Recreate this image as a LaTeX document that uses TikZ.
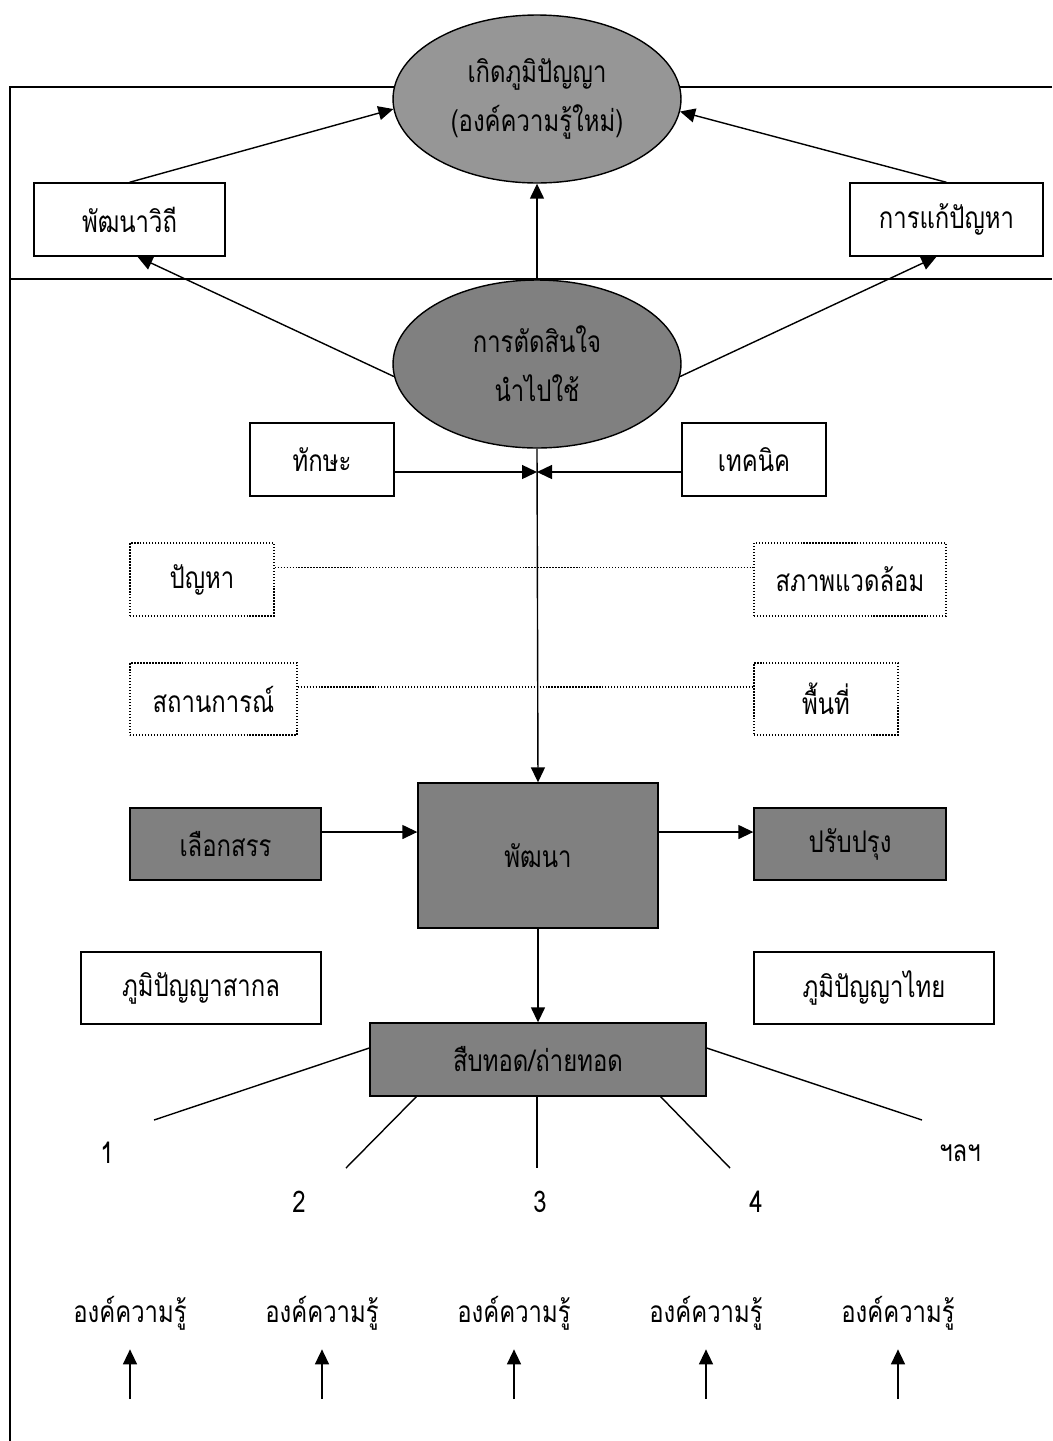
\documentclass[tikz,border=0pt]{standalone}
\usepackage{fontspec}
\newfontfamily\thaifont[Script=Thai,FakeStretch=0.8]{Loma}
\usetikzlibrary{shapes.geometric, positioning, calc, arrows.meta}
\definecolor{ovalgrey}{gray}{0.59}
\definecolor{boxgrey}{gray}{0.5}
\tikzset{
  txt/.style={inner sep=0pt, font=\thaifont\fontsize{17}{20}\selectfont},
  box/.style={txt, draw, line width=0.8pt, minimum height=1.46cm},
  dotbox/.style={txt, draw, densely dotted, line width=0.7pt, minimum height=1.46cm},
  oval/.style={txt, ellipse, draw, line width=0.8pt, align=center, minimum width=5.76cm, minimum height=3.36cm},
  tip/.style={line width=0.8pt, -{Triangle[length=0.3cm, width=0.28cm]}},
}

\begin{document}
\begin{tikzpicture}[x=0.02cm, y=-0.02cm]
  \useasboundingbox (0,0) rectangle (1052,1441);

  % frame
  \draw[line width=0.8pt] (1052,87) -- (10,87) -- (10,1441);
  \draw[line width=0.8pt] (10,279) -- (1052,279);

  % top part
  \node[oval, fill=ovalgrey] (wisdom) at (537,99) {เกิดภูมิปัญญา\\[8pt](องค์ความรู้ใหม่)};
  \node[box, minimum width=3.82cm] (way) at (129.5,219.5) {พัฒนาวิถี};
  \node[box, minimum width=3.86cm] (solve) at (946.5,219.5) {การแก้ปัญหา};
  \node[oval, fill=boxgrey] (decide) at (537,364) {การตัดสินใจ\\[8pt]นำไปใช้};

  \draw[tip] (way.north) -- (wisdom.184);
  \draw[tip] (solve.north) -- (wisdom.355);
  \draw[tip] (decide.north) -- (wisdom.south);
  \draw[tip] (decide.185) -- ($(way.south)+(8,0)$);
  \draw[tip] (decide.355) -- ($(solve.south)+(-10,0)$);

  % skills and technique
  \node[box, minimum width=2.88cm] (skill) at (322,459.5) {ทักษะ};
  \node[box, minimum width=2.88cm] (tech) at (754,459.5) {เทคนิค};
  \coordinate (meet) at (537,472);
  \draw[tip] (skill.east |- meet) -- (meet);
  \draw[tip] (tech.west |- meet) -- (meet);

  % conditions
  \node[dotbox, minimum width=2.88cm] (problem) at (202,579.5) {ปัญหา};
  \node[dotbox, minimum width=3.84cm] (environ) at (850,579.5) {สภาพแวดล้อม};
  \node[dotbox, minimum width=3.34cm, minimum height=1.44cm] (situation) at (213.5,699) {สถานการณ์};
  \node[dotbox, minimum width=2.88cm, minimum height=1.44cm] (area) at (826,699) {พื้นที่};
  \draw[densely dotted, line width=0.7pt] ($(problem.east)+(0,-12)$) -- ($(environ.west)+(0,-12)$);
  \draw[densely dotted, line width=0.7pt] ($(situation.east)+(0,-12)$) -- ($(area.west)+(0,-12)$);

  % development
  \node[box, fill=boxgrey, minimum width=4.8cm, minimum height=2.9cm] (develop) at (538,855.5) {พัฒนา};
  \node[box, fill=boxgrey, minimum width=3.82cm, minimum height=1.44cm] (select) at (225.5,844) {เลือกสรร};
  \node[box, fill=boxgrey, minimum width=3.84cm, minimum height=1.44cm] (improve) at (850,844) {ปรับปรุง};
  \draw[tip] (decide.south) -- (develop.north);
  \draw[tip] ($(select.east)+(0,-12)$) -- ($(develop.west)+(0,-23.5)$);
  \draw[tip] ($(develop.east)+(0,-23.5)$) -- ($(improve.west)+(0,-12)$);

  \node[box, minimum width=4.8cm, minimum height=1.44cm] (global) at (201,988) {ภูมิปัญญาสากล};
  \node[box, minimum width=4.8cm, minimum height=1.44cm] (thai) at (874,988) {ภูมิปัญญาไทย};

  % passing on
  \node[box, fill=boxgrey, minimum width=6.72cm] (inherit) at (538,1059.5) {สืบทอด/ถ่ายทอด};
  \draw[tip] (develop.south) -- (inherit.north);

  \coordinate (end1) at (154,1120);
  \coordinate (end2) at (346,1168);
  \coordinate (end3) at (537,1168);
  \coordinate (end4) at (730,1168);
  \coordinate (end5) at (922,1120);
  \draw[line width=0.8pt] ($(inherit.west)+(0,-11.5)$) -- (end1);
  \draw[line width=0.8pt] ($(inherit.south west)+(47,0)$) -- (end2);
  \draw[line width=0.8pt] (inherit.south -| end3) -- (end3);
  \draw[line width=0.8pt] ($(inherit.south east)+(-46,0)$) -- (end4);
  \draw[line width=0.8pt] ($(inherit.east)+(0,-11.5)$) -- (end5);

  \node[txt] (num1) at (107,1153) {1};
  \node[txt] (num2) at (299,1202) {2};
  \node[txt] (num3) at (540,1202) {3};
  \node[txt] (num4) at (756,1202) {4};
  \node[txt] (numetc) at (960,1153) {ฯลฯ};

  % knowledge
  \foreach \i/\x in {1/130, 2/322, 3/514, 4/706, 5/898} {
    \node[txt] (know\i) at (\x,1313) {องค์ความรู้};
    \coordinate (base\i) at (\x,1399);
    \draw[tip, shorten >=0.38cm] (base\i) -- (know\i);
  }
\end{tikzpicture}
\end{document}
